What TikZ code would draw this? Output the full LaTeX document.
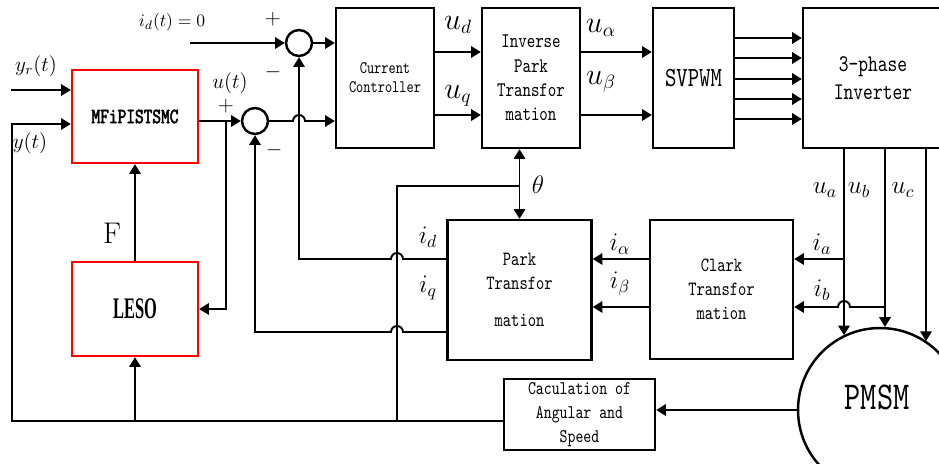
\documentclass[tikz,border=0pt]{standalone}
\usepackage{fontspec}
\usetikzlibrary{arrows.meta,calc}
\newfontfamily\boxfont[Extension=.otf, FakeStretch=0.78]{lmmono10-regular}
\newfontfamily\boxbold[Extension=.otf, FakeStretch=0.76, FakeBold=2.2]{lmmono10-regular}
\newfontfamily\lesofont[FakeStretch=0.55]{Liberation Serif}

\begin{document}
\begin{tikzpicture}[x=0.02cm, y=-0.02cm, line width=1.1pt,
  >={Triangle[length=5.5pt,width=6.5pt]},
  blk/.style={draw, line width=1.4pt, inner sep=0pt, align=center},
  redblk/.style={blk, draw=red},
  sumc/.style={draw, circle, line width=1.4pt, minimum size=0.52cm, inner sep=0pt},
  lbl/.style={font=\fontsize{14}{14}\selectfont, inner sep=1pt},
  biglbl/.style={font=\fontsize{16}{16}\selectfont, inner sep=1pt}]
\useasboundingbox (0,0) rectangle (939,463);
\node[redblk, font=\boxbold\fontsize{12.4}{13}\selectfont, minimum width=2.52cm, minimum height=1.86cm] (mfi) at (135,116.5) {MFiPISTSMC};
\node[redblk, font=\lesofont\bfseries\fontsize{17}{17}\selectfont, minimum width=2.52cm, minimum height=1.88cm] (leso) at (135,309) {LESO};
\node[sumc] (s1) at (299,43) {};
\node[sumc] (s2) at (255,121) {};
\node[blk, font=\boxfont\fontsize{10}{10.9}\selectfont, minimum width=1.96cm, minimum height=2.8cm] (cc) at (385,78) {Current\\Controller};
\node[blk, font=\boxfont\fontsize{11.8}{13.8}\selectfont, minimum width=1.96cm, minimum height=2.8cm] (ipark) at (531,78) {Inverse\\Park\\Transfor\\mation};
\node[blk, font=\boxfont\fontsize{15.8}{15.8}\selectfont, minimum width=1.62cm, minimum height=2.8cm] (svpwm) at (693.5,78) {SVPWM};
\node[blk, font=\boxfont\fontsize{13.6}{16}\selectfont, minimum width=2.8cm, minimum height=2.8cm] (inv) at (873,78) {3-phase\\Inverter};
\node[blk, font=\boxfont\fontsize{11.5}{13.7}\selectfont, minimum width=2.88cm, minimum height=2.8cm] (park) at (519.5,290) {Park\\Transfor\\[7pt]mation};
\node[blk, font=\boxfont\fontsize{11.5}{13.7}\selectfont, minimum width=2.86cm, minimum height=2.78cm] (clark) at (721.5,289.5) {Clark\\Transfor\\mation};
\node[blk, font=\boxfont\fontsize{11}{13.7}\selectfont, minimum width=3.02cm, minimum height=1.42cm] (calc) at (579.5,414.5) {Caculation of\\Angular and\\Speed};
\node[draw, circle, line width=1.4pt, minimum size=3.28cm] (pmsm) at (880,410) {};
\node[font=\boxfont\fontsize{22.5}{22.5}\selectfont] (pmsmtxt) at (877,397) {PMSM};

\coordinate (idin) at (190,43);
\coordinate (yrin) at (11,90);
\coordinate (ybot) at (12,421);
\coordinate (ubr) at (226,121);
\coordinate (tb) at (397,421);
\coordinate (thc) at ($(park.north)+(0,-33)$);
\coordinate (cin) at ($(calc.west)+(0,6.5)$);
\coordinate (yud) at (0,52);
\coordinate (yuq) at (0,115);
\coordinate (yid) at (0,259);
\coordinate (yib) at (0,307);
\coordinate (yiq) at (0,332);
\coordinate (xa) at (844,0);
\coordinate (xb) at (885,0);
\coordinate (xc) at (926,0);

\draw[->] (idin) -- (s1.west);
\draw[->] (s1.east) -- (s1.east -| cc.west);
\draw[->] (s2.east) -- (293,121) arc (180:360:6) -- (cc.west |- s2.east);
\draw[->] (mfi.east |- s2) -- (s2.west);
\draw[->] (ubr) |- (leso.east);
\draw[->] (leso.north) -- (mfi.south);
\draw[->] (yrin) -- (yrin -| mfi.west);
\draw[->] (cin) -- (ybot) |- ($(mfi.west)+(0,7.5)$);
\draw[->] (leso.south |- ybot) -- (leso.south);
\draw (tb) |- (thc);
\draw[<->] (park.north) -- (park.north |- ipark.south);
\draw[->] (park.west |- yid) -- (403,259) arc (360:180:6) -- (s1.south |- yid) -- (s1.south);
\draw[->] (park.west |- yiq) -- (403,332) arc (360:180:6) -- (s2.south |- yiq) -- (s2.south);
\draw[->] (cc.east |- yud) -- (ipark.west |- yud);
\draw[->] (cc.east |- yuq) -- (ipark.west |- yuq);
\draw[->] (ipark.east |- yud) -- (svpwm.west |- yud);
\draw[->] (ipark.east |- yuq) -- (svpwm.west |- yuq);
\foreach \y in {38,58,79,99,119} {
  \coordinate (t) at (0,\y);
  \draw[->] (svpwm.east |- t) -- (inv.west |- t);
}
\draw[->] (xa |- inv.south) -- (xa |- pmsm.116);
\draw[->] (xb |- inv.south) -- (xb |- pmsm.87);
\draw[->] (xc |- inv.south) -- (xc |- pmsm.56);
\draw[->] (xa |- yid) -- (clark.east |- yid);
\draw[->] (xb |- yib) -- (850,307) arc (360:180:6) -- (clark.east |- yib);
\draw[->] (clark.west |- yid) -- (park.east |- yid);
\draw[->] (clark.west |- yib) -- (park.east |- yib);
\draw[->] (pmsm.west) -- (calc.east |- pmsm.west);

\node[font=\fontsize{10}{10}\selectfont] (lid0) at (172,22) {$i_d(t)=0$};
\node[font=\fontsize{12}{12}\selectfont] (p1) at (273,19) {$+$};
\node[font=\fontsize{12}{12}\selectfont] (m1) at (273,72) {$-$};
\node[font=\fontsize{12}{12}\selectfont] (p2) at (226,106) {$+$};
\node[font=\fontsize{12}{12}\selectfont] (m2) at (274,150) {$-$};
\node[font=\fontsize{12}{12}\selectfont] (lyr) at (36,66) {$y_r(t)$};
\node[font=\fontsize{12}{12}\selectfont] (ly) at (30,143) {$y(t)$};
\node[font=\fontsize{12}{12}\selectfont] (lu) at (230,83) {$u(t)$};
\node[font=\fontsize{17}{17}\selectfont] (lF) at (112,233) {F};
\node[biglbl] (lud) at (458,25) {$u_d$};
\node[biglbl] (luq) at (458,96) {$u_q$};
\node[biglbl] (lual) at (601,28) {$u_\alpha$};
\node[biglbl] (lube) at (601,82) {$u_\beta$};
\node[lbl] (lth) at (538,185) {$\theta$};
\node[lbl] (lidd) at (428,237) {$i_d$};
\node[lbl] (liq) at (428,288) {$i_q$};
\node[lbl] (lial) at (620,244) {$i_\alpha$};
\node[lbl] (libe) at (620,284) {$i_\beta$};
\node[lbl] (lia) at (822,244) {$i_a$};
\node[lbl] (lib) at (822,290) {$i_b$};
\node[lbl] (lua) at (825,190) {$u_a$};
\node[lbl] (lub) at (859,190) {$u_b$};
\node[lbl] (luc) at (903,190) {$u_c$};
\end{tikzpicture}
\end{document}
